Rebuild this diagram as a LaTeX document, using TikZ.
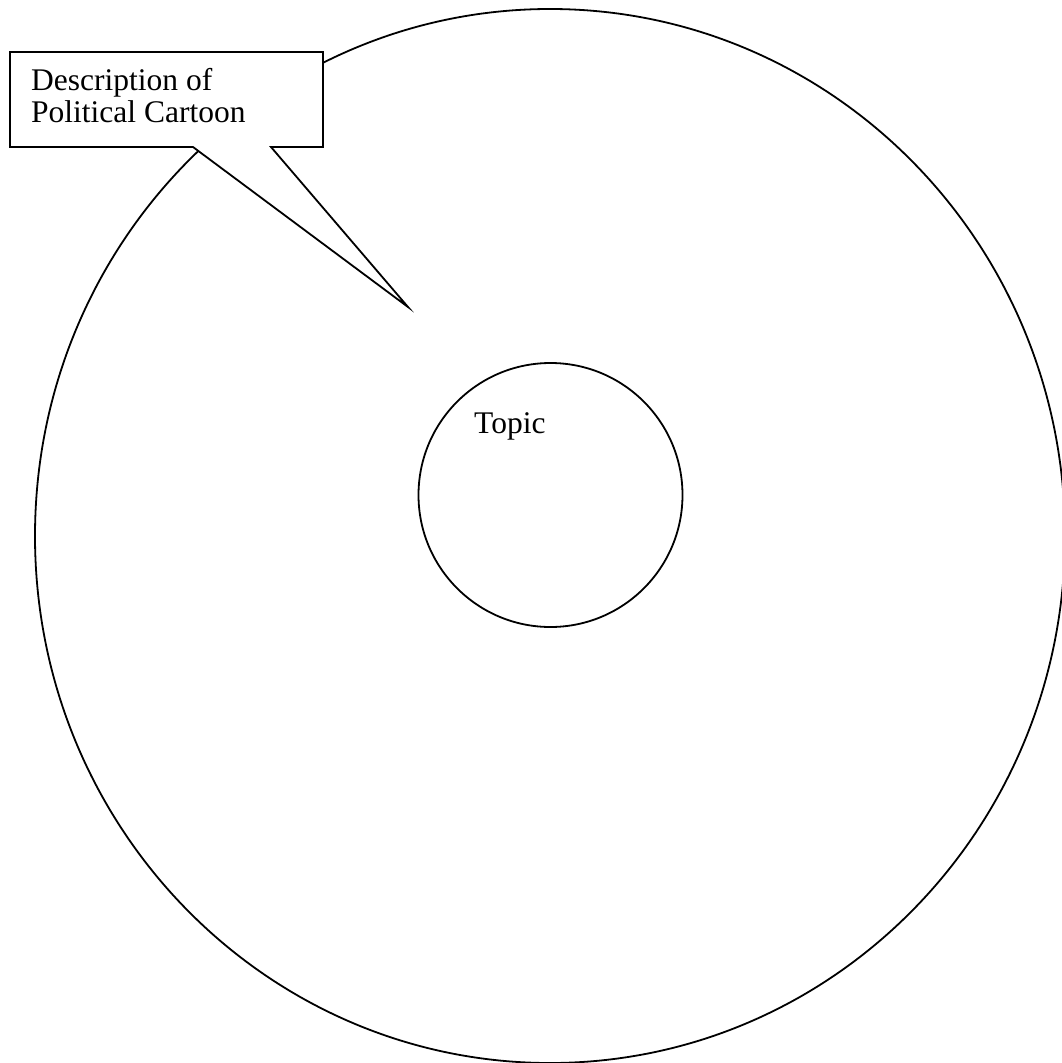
\documentclass[tikz,border=0pt]{standalone}
\usepackage{fontspec}
\setmainfont{Liberation Serif}
\begin{document}
\begin{tikzpicture}[x=1pt,y=-1pt,
  outline/.style={draw=black,line width=1.8pt},
  lbl/.style={anchor=base west,inner sep=0pt,font=\fontsize{31.5}{32}\selectfont}]
\useasboundingbox (0,0) rectangle (1062,1063);
\fill[white] (0,0) rectangle (1062,1063);
% outer circle
\draw[outline] (550,536) ellipse [x radius=515, y radius=527];
% inner circle
\node[outline,circle,minimum size=264pt,inner sep=0pt] (topiccircle) at (550.5,495) {};
\node[lbl] (topic) at (474,433) {Topic};
% callout
\coordinate (tip) at (408,307);
\filldraw[outline,fill=white,line join=miter]
  (10,52) -- (323,52) -- (323,147) -- (271,147) -- (tip) -- (193,147) -- (10,147) -- cycle;
\node[lbl] (desc1) at (31,90) {Description of};
\node[lbl] (desc2) at (31,122) {Political Cartoon};
\end{tikzpicture}
\end{document}
